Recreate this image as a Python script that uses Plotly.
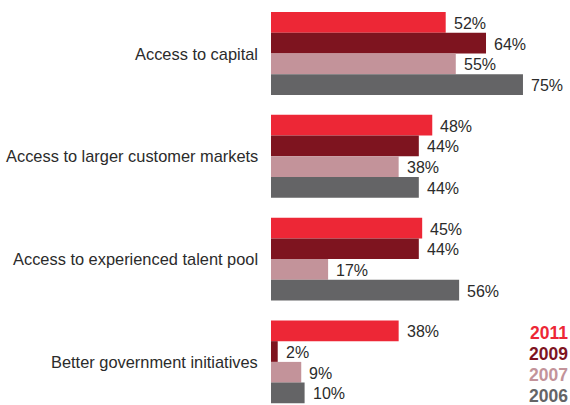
import plotly.graph_objects as go

categories = [
    "Access to capital",
    "Access to larger customer markets",
    "Access to experienced talent pool",
    "Better government initiatives",
]
years = ["2011", "2009", "2007", "2006"]
values = {
    "2011": [52, 48, 45, 38],
    "2009": [64, 44, 44, 2],
    "2007": [55, 38, 17, 9],
    "2006": [75, 44, 56, 10],
}
colors = {
    "2011": "#ED2736",
    "2009": "#7E141F",
    "2007": "#C3939A",
    "2006": "#646466",
}

FONT = "Liberation Sans, Arial, Helvetica, sans-serif"
TEXT_COLOR = "#2b2b2b"

fig = go.Figure()
for yr in years:
    fig.add_trace(go.Bar(
        y=categories,
        x=values[yr],
        orientation="h",
        name=yr,
        marker=dict(color=colors[yr], line=dict(width=0)),
        hoverinfo="skip",
    ))

# value labels next to each bar
n = len(years)
group_width = 0.806
bar_w = group_width / n
annotations = []
for ci, cat in enumerate(categories):
    for j, yr in enumerate(years):
        offset = -group_width / 2 + (j + 0.5) * bar_w
        annotations.append(dict(
            x=values[yr][ci], y=ci + offset, xref="x", yref="y",
            text=f"{values[yr][ci]}%", showarrow=False,
            xanchor="left", yanchor="middle", xshift=6, yshift=-1,
            font=dict(family=FONT, size=16, color=TEXT_COLOR),
        ))

# category labels to the left of the bars
for ci, cat in enumerate(categories):
    annotations.append(dict(
        x=0, y=ci, xref="x", yref="y", text=cat, showarrow=False,
        xanchor="right", yanchor="middle", xshift=-11,
        font=dict(family=FONT, size=16.4, color=TEXT_COLOR),
    ))

# year key in the lower right
key_y = [333, 354, 375, 396]
for yr, py in zip(years, key_y):
    annotations.append(dict(
        x=1.0, y=1 - py / 405, xref="paper", yref="paper", text=f"<b>{yr}</b>",
        showarrow=False, xanchor="right", yanchor="middle", xshift=0,
        font=dict(family=FONT, size=17.5, color=colors[yr]),
    ))

fig.update_layout(
    width=570, height=405,
    margin=dict(l=271, r=0, t=0, b=0),
    paper_bgcolor="white", plot_bgcolor="white",
    barmode="group", bargap=0.194, bargroupgap=0,
    showlegend=False,
    xaxis=dict(range=[0, 89], visible=False, fixedrange=True),
    yaxis=dict(type="category", range=[3.4193, -0.5204], visible=False, fixedrange=True),
    annotations=annotations,
)

fig.write_html("out.html")
